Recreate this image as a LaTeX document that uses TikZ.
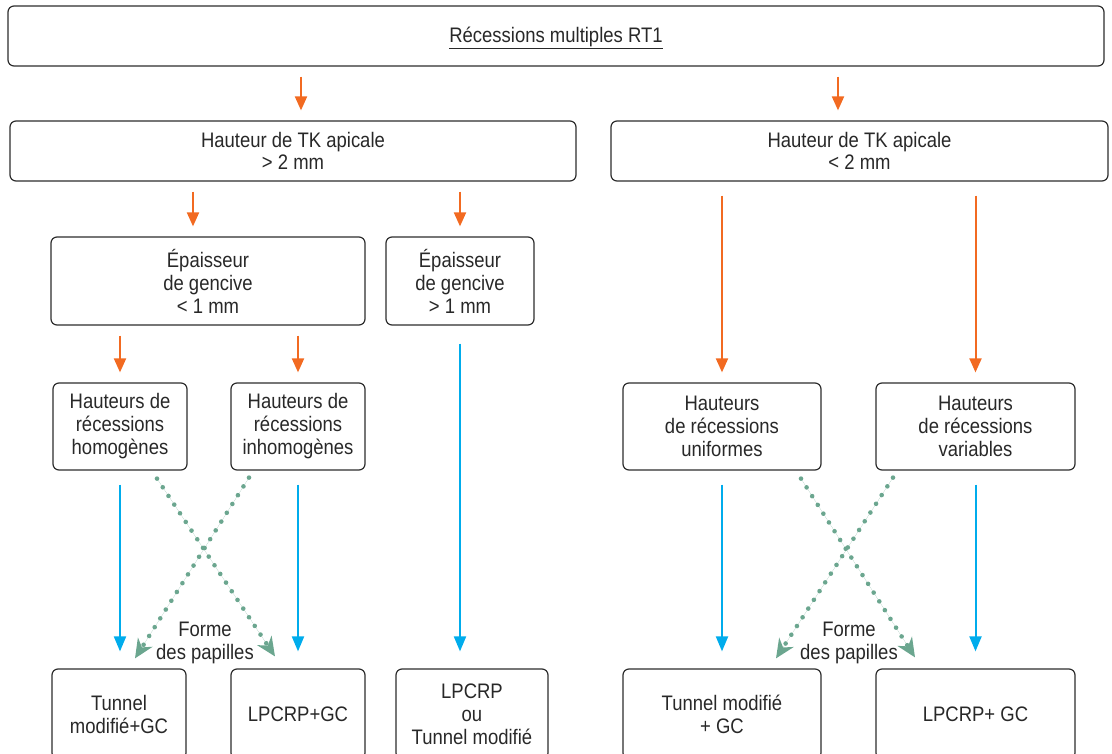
\documentclass[tikz,border=0pt]{standalone}
\usepackage{fontspec}
\setmainfont[FakeStretch=0.88]{Liberation Sans}
\usetikzlibrary{arrows.meta}

\definecolor{boxgray}{RGB}{45,45,45}
\definecolor{txtgray}{RGB}{40,40,40}
\definecolor{arrorange}{RGB}{242,106,33}
\definecolor{arrblue}{RGB}{0,172,236}
\definecolor{papgreen}{RGB}{107,166,143}

\tikzstyle{box} = [draw=boxgray, line width=1.2pt, rounded corners=6pt, align=center, inner sep=0pt, text=txtgray, font=\fontsize{21}{23}\selectfont]
\tikzstyle{lbl} = [align=center, inner sep=0pt, text=txtgray, font=\fontsize{21}{23}\selectfont]
\tikzstyle{orange arrow} = [draw=arrorange, line width=2pt, -{Triangle[width=12pt,length=14pt]}, shorten <=10pt, shorten >=10pt]
\tikzstyle{blue arrow} = [draw=arrblue, line width=2pt, -{Triangle[width=12pt,length=15pt]}, shorten <=14pt, shorten >=17pt]
\tikzstyle{papilla arrow} = [draw=papgreen, fill=papgreen, line width=4.6pt, line cap=round, dash pattern=on 0pt off 10.4pt, -{Stealth[width=17pt,length=19pt,inset=6pt]}]

\begin{document}
\begin{tikzpicture}[x=1pt,y=-1pt]
	\clip (0,0) rectangle (1112,754);

	% first two levels
	\node[box, minimum width=1096pt, minimum height=60pt] (top) at (556,36) {\raisebox{-6.5pt}[0pt][0pt]{\underline{Récessions multiples RT1}}};
	\node[box, minimum width=566pt, minimum height=60pt] (lh) at (293,151) {Hauteur de TK apicale\\[-1pt]> 2 mm};
	\node[box, minimum width=497pt, minimum height=60pt] (rh) at (859.5,151) {Hauteur de TK apicale\\[-1pt]< 2 mm};

	\node[box, minimum width=314pt, minimum height=88pt] (ep1) at (208,281) {Épaisseur\\de gencive\\< 1 mm};
	\node[box, minimum width=148pt, minimum height=88pt] (ep2) at (460,281) {Épaisseur\\de gencive\\> 1 mm};

	% recession heights
	\node[box, minimum width=134pt, minimum height=87pt] (hom) at (120,426.5) {Hauteurs de\\récessions\\homogènes};
	\node[box, minimum width=134pt, minimum height=87pt] (inh) at (298,426.5) {Hauteurs de\\récessions\\inhomogènes};
	\node[box, minimum width=198pt, minimum height=87pt] (uni) at (722,426.5) {Hauteurs\\de récessions\\uniformes};
	\node[box, minimum width=199pt, minimum height=87pt] (var) at (975.5,426.5) {Hauteurs\\de récessions\\variables};

	% techniques
	\node[box, minimum width=134pt, minimum height=90pt] (b1) at (119,714) {Tunnel\\modifié+GC};
	\node[box, minimum width=134pt, minimum height=90pt] (b2) at (298,714) {LPCRP+GC};
	\node[box, minimum width=152pt, minimum height=90pt] (b3) at (472,714) {LPCRP\\ou\\Tunnel modifié};
	\node[box, minimum width=198pt, minimum height=90pt] (b4) at (722,714) {Tunnel modifié\\+ GC};
	\node[box, minimum width=199pt, minimum height=90pt] (b5) at (975.5,714) {LPCRP+ GC};

	\node[lbl] (fp1) at (205,643) {Forme\\des papilles};
	\node[lbl] (fp2) at (849,643) {Forme\\des papilles};

	\draw[orange arrow] ([xshift=8pt]lh.north |- top.south) -- ([xshift=8pt]lh.north);
	\draw[orange arrow] ([xshift=-21.5pt]rh.north |- top.south) -- ([xshift=-21.5pt]rh.north);
	\draw[orange arrow] ([xshift=-15pt]ep1.north |- lh.south) -- ([xshift=-15pt]ep1.north);
	\draw[orange arrow] (ep2.north |- lh.south) -- (ep2.north);
	\draw[orange arrow] (hom.north |- ep1.south) -- (hom.north);
	\draw[orange arrow] (inh.north |- ep1.south) -- (inh.north);
	\draw[orange arrow, shorten <=14pt] (uni.north |- rh.south) -- (uni.north);
	\draw[orange arrow, shorten <=14pt] (var.north |- rh.south) -- (var.north);

	\draw[blue arrow] (hom.south) -- (hom.south |- b1.north);
	\draw[blue arrow] (inh.south) -- (b2.north);
	\draw[blue arrow, shorten <=18pt] (ep2.south) -- (ep2.south |- b3.north);
	\draw[blue arrow] (uni.south) -- (b4.north);
	\draw[blue arrow] (var.south) -- (b5.north);

	\draw[papilla arrow] ([xshift=37pt,yshift=-8pt]hom.south) -- ([xshift=-23pt,yshift=12pt]b2.north);
	\draw[papilla arrow] ([xshift=-49pt,yshift=-7pt]inh.south) -- ([xshift=16pt,yshift=10pt]b1.north);
	\draw[papilla arrow] ([xshift=79pt,yshift=-8pt]uni.south) -- ([xshift=-60.5pt,yshift=11pt]b5.north);
	\draw[papilla arrow] ([xshift=-82.5pt,yshift=-7pt]var.south) -- ([xshift=54pt,yshift=10pt]b4.north);
\end{tikzpicture}
\end{document}
